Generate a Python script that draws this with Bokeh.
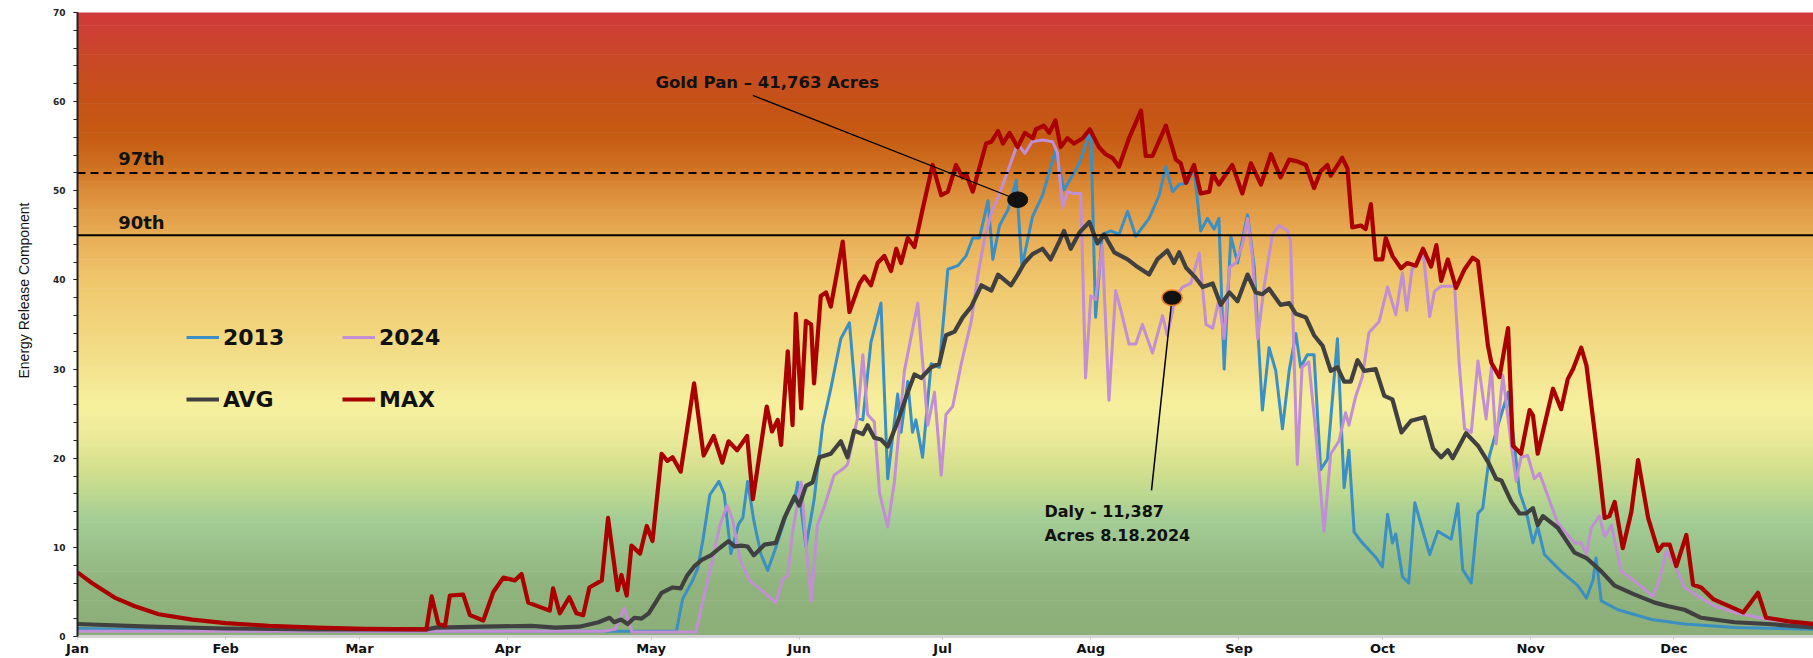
import numpy as np
from bokeh.plotting import figure
from bokeh.models import Range1d, FixedTicker, Span, Label, Legend, LegendItem, Title
from bokeh.embed import file_html
from bokeh.resources import INLINE

# ---------------- data ----------------
MONTHS = ["Jan", "Feb", "Mar", "Apr", "May", "Jun", "Jul", "Aug", "Sep", "Oct", "Nov", "Dec"]
MONTH_LENGTHS = [31, 28, 31, 30, 31, 30, 31, 31, 30, 31, 30, 31]
Y_TICKS = [0, 10, 20, 30, 40, 50, 60, 70]
Y_MINOR = list(range(0, 71, 2))

PCT97 = 52.0
PCT90 = 45.0

MAX_DAY = [0, 3, 8, 12, 17, 24, 31, 40, 50, 60, 73, 74.1, 75.5, 76.9, 77.9, 80.7, 82.1, 84.9, 87, 89.1, 91.5, 92.9,
           94.3, 98.8, 99.5, 100.9, 102.9, 104.4, 105.8, 107.1, 109.7, 111, 113, 113.8, 114.9, 115.9, 117.7, 119.1,
           120.3, 122.2, 123.4, 124.5, 126.2, 129.0, 131.0, 133.1, 134.9, 136.2, 138, 140.1, 141.3, 144.2, 145.3,
           146.5, 147.2, 148.6, 149.6, 150.3, 151.4, 152.4, 153.5, 154.1, 155.5, 156.6, 157.6, 160.1, 161.5, 163.6,
           164.6, 166.0, 167.4, 168.8, 170.2, 171.3, 172.3, 173.7, 175.1, 176.8, 178.9, 180.7, 182.1, 183.8, 185.2,
           185.9, 187.3, 190.1, 191.2, 192.6, 193.6, 195.0, 196.7, 198.2, 199.9, 200.5, 202.2, 203.3, 204.6, 205.7,
           207.1, 208.5, 210.3, 211.8, 213.7, 215.1, 216.5, 217.9, 220.0, 222.5, 223.5, 224.9, 227.7, 229.8, 230.8,
           231.9, 233.6, 235.0, 236.8, 237.5, 238.8, 241.6, 243.7, 245.5, 247.6, 249.7, 251.7, 253.5, 255.2, 257.0,
           258.7, 260.1, 261.5, 262.2, 264.6, 265.7, 266.7, 268.5, 269.5, 270.6, 271.6, 273.0, 273.7, 275.1, 276.9,
           278.2, 280.0, 281.5, 283.2, 284.3, 285.3, 286.7, 288.4, 290.2, 291.9, 293.0, 295.1, 295.8, 297.5, 299.3,
           300.3, 302.0, 303.8, 304.5, 305.5, 308.7, 310.4, 311.8, 312.9, 314.6, 315.7, 318.1, 319.5, 320.5, 321.6,
           323.3, 325.1, 326.5, 328.6, 330.7, 331.7, 333.1, 334.5, 336.6, 338.0, 339.7, 342.2, 348.5, 351.6, 353.3,
           358, 363.5]
MAX_ERC = [7.2, 6.0, 4.3, 3.4, 2.5, 1.9, 1.5, 1.2, 1.0, 0.85, 0.8, 4.5, 1.4, 1.2, 4.6, 4.7, 2.4, 1.8, 5.0, 6.6, 6.3, 7.0,
           3.8, 2.9, 5.4, 2.6, 4.4, 2.6, 2.4, 5.5, 6.3, 13.3, 5.2, 6.9, 4.6, 10.2, 9.3, 12.4,
           10.7, 20.5, 19.7, 20.1, 18.5, 28.4, 20.3, 22.5, 19.5, 21.9, 20.9, 22.5, 15.4, 25.8, 23.0,
           24.3, 21.5, 32.0, 23.7, 36.2, 25.6, 35.4, 35.0, 28.4, 38.2, 38.6, 37.0, 44.3, 36.4, 39.6,
           40.4, 39.4, 41.9, 42.7, 41.0, 43.5, 41.9, 44.7, 43.7, 47.9, 52.9, 49.5, 49.9, 52.9, 51.5,
           51.9, 49.9, 55.3, 55.5, 56.7, 55.3, 56.5, 54.9, 56.5, 55.9, 56.9, 57.3, 56.5, 57.9, 54.9,
           55.9, 55.3, 55.9, 56.9, 54.9, 54.1, 53.7, 52.7, 55.9, 59.0, 53.9, 53.9, 57.3, 53.5, 53.1,
           50.9, 52.9, 49.7, 49.9, 51.9, 50.7, 52.9, 49.7, 53.1, 50.7, 54.1, 51.5, 53.5, 53.3, 52.9,
           50.3, 52.2, 52.9, 51.7, 53.7, 52.5, 45.9, 46.1, 45.7, 48.5, 42.3, 42.3, 44.7, 42.7, 41.3,
           41.9, 41.6, 43.5, 41.5, 43.9, 39.9, 42.3, 39.1, 41.2, 42.5, 42.1, 32.6, 30.7, 29.1, 34.6,
           21.4, 20.5, 25.4, 24.8, 20.5, 27.8, 25.5, 28.9, 30.0, 32.4, 30.4, 20.0, 13.3, 13.5, 15.1,
           9.9, 14.0, 19.8, 13.3, 9.6, 10.3, 10.3, 7.9, 11.4, 5.8, 5.5, 4.2, 2.7, 4.9, 2.1,
           1.7, 1.4]

AVG_DAY = [0, 15, 31, 50, 73, 75, 85, 95, 100, 105, 109, 111.3, 112.3, 113.7, 115.1, 116.5, 118, 119.5, 120.7, 122.2,
           124.5, 126.2, 127.5, 129.1, 130.6, 132.5, 134.3, 136.2, 137.5, 138.8, 140.2, 141.5, 143.7, 146.1, 147.9,
           150.0, 151.0, 152.4, 153.8, 155.2, 157.6, 159.7, 161.1, 162.5, 164.3, 165.3, 166.7, 168.1, 169.5, 171.6,
           173.7, 175.1, 176.5, 178.6, 180.3, 181.7, 183.5, 185.2, 187.0, 189.1, 191.2, 192.6, 195.3, 196.7, 198.1,
           199.8, 201.9, 203.6, 205.4, 206.4, 207.8, 209.6, 211.7, 213.4, 214.8, 216.9, 218.3, 219.7, 221.4, 224.2,
           225.9, 228.0, 229.4, 230.5, 231.9, 234.0, 235.4, 237.5, 239.2, 241.0, 242.7, 244.8, 246.5, 247.9, 249.3,
           251.7, 253.5, 254.9, 257.0, 258.7, 260.5, 262.2, 263.6, 265.0, 266.4, 267.8, 269.2, 271.6, 273.4, 275.1,
           277.0, 279.0, 281.8, 283.6, 285.3, 286.7, 287.7, 290.5, 293.0, 295.1, 296.8, 297.9, 300.0, 301.7, 303.1,
           304.5, 305.5, 306.6, 309.7, 313.2, 315.7, 318.8, 321.6, 325.8, 330.0, 332.8, 336.2, 339.7, 346.7, 353.7,
           363.5]
AVG_ERC = [1.4, 1.1, 0.9, 0.8, 0.8, 1.0, 1.1, 1.2, 1.0, 1.1, 1.6, 2.1, 1.6, 1.9, 1.4, 2.1, 2.0, 2.6, 3.6, 4.9,
           5.5, 5.4, 6.8, 7.9, 8.6, 9.1, 9.9, 10.7, 10.1, 10.2, 10.1, 9.1, 10.3, 10.5, 13.3,
           15.7, 14.7, 16.9, 17.3, 20.1, 20.5, 21.9, 20.1, 23.1, 22.7, 23.7, 22.3, 22.1, 21.3, 24.1,
           27.4, 29.4, 29.0, 30.2, 30.6, 33.8, 34.2, 35.8, 37.0, 39.4, 38.8, 40.6, 39.4, 40.6, 41.9,
           42.9, 43.5, 42.3, 44.3, 45.5, 43.5, 45.3, 46.5, 44.1, 45.1, 43.1, 42.7, 42.3, 41.6, 40.6,
           42.3, 43.3, 41.9, 43.1, 41.4, 40.2, 39.2, 39.6, 37.2, 38.6, 37.6, 40.6, 38.6, 38.4, 39.0,
           37.2, 37.4, 36.2, 35.8, 33.8, 32.6, 29.8, 30.2, 28.6, 28.6, 31.0, 29.8, 30.0, 27.0, 26.6,
           22.9, 24.2, 24.6, 21.1, 20.1, 20.9, 20.0, 22.8, 21.4, 19.6, 17.7, 17.5, 15.1, 13.8, 13.8,
           14.4, 12.5, 13.5, 12.2, 9.4, 8.8, 7.3, 5.7, 4.7, 3.8, 3.4, 3.0, 2.1, 1.6, 1.4,
           1.0]

Y2013_DAY = [0, 20, 60, 100, 125.3, 126.6, 128.7, 129.8, 130.9, 132.3, 134.2, 135.3, 136.7, 138.3, 139.2, 140.2,
             141.5, 143.0, 144.4, 145.8, 148.6, 150.0, 150.7, 152.4, 154.1, 155.9, 157.6, 159.7, 161.5, 163.2,
             164.3, 166.0, 168.1, 169.5, 171.6, 172.3, 173.7, 174.7, 175.4, 176.8, 178.6, 180.3, 182.1, 184.2,
             185.9, 187.3, 188.7, 190.5, 191.5, 192.9, 194.7, 196.4, 197.6, 199.8, 201.9, 204.6, 206.4, 209.6,
             212.0, 213.0, 214.4, 216.2, 217.9, 219.7, 221.4, 224.2, 226.3, 227.7, 229.1, 230.5, 232.2, 233.6,
             235.0, 236.4, 237.8, 238.8, 239.9, 241.3, 242.7, 244.8, 246.2, 247.9, 249.3, 250.7, 252.1, 253.5,
             254.9, 255.9, 257.3, 258.7, 260.1, 261.5, 263.6, 265.0, 266.0, 267.1, 268.5, 270.2, 271.6, 273.0,
             274.1, 275.1, 275.8, 277.2, 278.5, 279.8, 281.5, 282.9, 284.6, 287.4, 288.8, 289.8, 291.6, 293.0,
             294.0, 295.4, 297.2, 299.3, 300.7, 301.7, 303.1, 304.5, 305.5, 306.9, 310.4, 313.9, 315.7, 317.1,
             317.7, 318.8, 322.3, 329.3, 336.2, 346.7, 363.5]
Y2013_ERC = [0.9, 0.7, 0.6, 0.6, 0.6, 4.2, 6.3, 7.7, 11.0, 15.9, 17.4, 16.0, 9.3, 12.6, 13.3, 17.4,
             13.0, 9.2, 7.4, 9.5, 14.1, 15.3, 17.3, 10.1, 15.3, 23.7, 27.8, 33.4, 35.2, 24.5,
             24.3, 33.0, 37.4, 17.7, 27.2, 22.9, 28.6, 22.9, 24.3, 20.1, 30.6, 30.2, 41.2, 41.6,
             42.7, 44.7, 44.7, 48.9, 42.3, 46.1, 47.9, 51.2, 41.5, 47.1, 49.5, 54.5, 50.1, 53.1,
             56.9, 35.8, 45.1, 45.5, 45.1, 47.7, 44.9, 46.9, 49.5, 52.7, 49.9, 50.7, 50.9, 52.5,
             45.5, 46.9, 45.7, 46.9, 30.0, 44.9, 41.9, 47.3, 41.4, 25.4, 32.4, 29.8, 23.3, 29.8,
             34.0, 30.2, 31.6, 31.6, 18.7, 19.9, 33.4, 16.7, 20.9, 11.7, 10.7, 9.7, 8.9, 7.8,
             13.7, 10.5, 11.5, 6.7, 6.0, 15.0, 11.8, 9.2, 11.8, 10.9, 14.9, 7.5, 6.0, 13.8,
             14.4, 20.3, 23.7, 27.4, 21.1, 16.2, 14.0, 10.5, 12.3, 9.2, 7.3, 5.7, 4.3, 6.4,
             8.8, 4.0, 3.0, 1.9, 1.4, 1.0, 0.8]

Y2024_DAY = [0, 110, 112.5, 114.4, 116, 129.4, 130.8, 132.6, 134.3, 135.9, 137.0, 138.7, 140.6, 143.3, 146.1, 147.5,
             148.6, 149.6, 151.4, 152.4, 153.5, 154.8, 156.2, 158.3, 160.4, 161.1, 163.2, 164.3, 165.3, 166.7,
             167.8, 169.5, 170.9, 173.0, 175.8, 177.9, 179.3, 180.7, 181.7, 183.1, 184.9, 187.0, 188.4, 189.8,
             191.2, 192.9, 194.7, 196.7, 198.2, 199.7, 201.9, 204.0, 205.0, 206.1, 207.1, 208.5, 209.9, 210.9,
             212.0, 213.0, 214.4, 215.8, 217.2, 218.3, 220.0, 221.4, 222.8, 224.9, 227.0, 228.0, 229.8, 231.2,
             232.9, 234.7, 236.1, 237.5, 238.8, 239.9, 241.0, 242.3, 243.7, 244.8, 245.8, 246.9, 248.3, 250.0,
             251.4, 253.2, 253.8, 255.2, 256.2, 257.6, 259.0, 260.8, 262.2, 263.9, 265.3, 266.0, 267.4, 268.8,
             270.2, 272.3, 274.1, 275.8, 277.2, 278.1, 279.2, 281.6, 282.9, 283.9, 285.3, 288.1, 289.1, 290.2,
             291.6, 293.0, 294.7, 295.8, 296.8, 298.2, 300.0, 301.0, 302.0, 303.4, 304.8, 305.9, 309.7, 313.2,
             314.6, 315.7, 316.7, 318.4, 319.5, 320.9, 323.0, 325.8, 329.6, 331.0, 332.4, 334.1, 336.2, 339.7,
             342.5, 346.7, 353.7, 363.5]
Y2024_ERC = [0.6, 0.6, 0.8, 3.2, 0.5, 0.5, 4.0, 8.0, 12.3, 14.7, 13.2, 8.5, 6.3, 5.1, 3.8, 6.4,
             6.8, 11.7, 17.3, 10.5, 4.0, 12.5, 14.5, 18.1, 18.9, 19.3, 24.5, 31.6, 24.9, 24.1,
             16.1, 12.3, 17.3, 29.8, 37.4, 23.7, 27.4, 18.1, 24.9, 25.8, 30.6, 35.4, 40.6, 44.7,
             47.5, 49.7, 52.3, 55.3, 54.2, 55.5, 55.7, 55.5, 54.3, 48.1, 49.9, 49.7, 49.7, 29.0,
             38.2, 37.8, 43.9, 26.5, 38.8, 36.6, 32.8, 32.8, 35.0, 31.8, 36.0, 33.8, 38.2, 39.2,
             39.6, 43.0, 35.0, 34.6, 37.8, 33.4, 41.4, 41.9, 43.9, 46.9, 42.7, 33.4, 39.4, 45.1,
             46.1, 45.5, 44.3, 19.3, 30.2, 30.8, 23.3, 11.8, 20.5, 21.9, 25.1, 23.7, 26.9, 29.1,
             34.1, 35.3, 39.2, 36.1, 40.8, 36.6, 41.2, 42.8, 35.9, 38.7, 39.3, 39.3, 30.4, 23.3,
             22.9, 30.9, 24.4, 30.2, 21.6, 29.3, 21.4, 17.4, 20.1, 20.3, 17.7, 18.3, 12.7, 10.5,
             10.5, 9.2, 12.2, 13.5, 11.2, 12.5, 7.3, 6.2, 4.5, 6.4, 9.6, 8.1, 5.5, 4.3,
             3.4, 2.7, 1.9, 1.2]

# annotation anchors (day of year, ERC)
GOLD_PAN_TEXT = "Gold Pan \u2013 41,763 Acres"
GOLD_PAN_DOT = (196.7, 49.0)
GOLD_PAN_LINE_START = (141.3, 60.7)
GOLD_PAN_TEXT_POS = (144.3, 62.1)
DALY_TEXT = "Daly - 11,387\nAcres 8.18.2024"
DALY_DOT = (229.0, 38.0)
DALY_LINE_START = (224.7, 16.4)
DALY_TEXT_POS = (202.3, 12.7)

# background colour ramp (ERC level -> colour)
BG_LEVELS = [0, 6, 10, 13, 16, 19, 23, 26, 30, 35, 40, 45, 50, 53, 56, 60, 64, 70]
BG_COLORS = ["#8cae78", "#90b47e", "#9cc28c", "#a3cc95", "#bcd88f", "#d5e08e", "#eeeb9a", "#f6f09e",
             "#f3e28e", "#f1d47c", "#efc66c", "#e8ad56", "#dc8c38", "#cd6f20", "#c65c13", "#c55217",
             "#c84a24", "#d03a3c"]

# ---------------- figure ----------------
month_start = [int(v) for v in np.concatenate([[0], np.cumsum(MONTH_LENGTHS)[:-1]])]

p = figure(width=1813, height=658, x_range=Range1d(0, 363.2), y_range=Range1d(0, 70),
           output_backend="svg", toolbar_location=None,
           min_border_left=77, min_border_right=0, min_border_top=12, min_border_bottom=19,
           background_fill_color="white", border_fill_color="white", outline_line_color=None)
p.grid.visible = False

# gradient background
step = 0.25
bottoms = np.arange(0, 70, step)
rgb = np.array([[int(c[i:i + 2], 16) for i in (1, 3, 5)] for c in BG_COLORS], dtype=float)
mids = bottoms + step / 2
cols = []
for m in mids:
    r, g, b = (np.interp(m, BG_LEVELS, rgb[:, k]) for k in range(3))
    cols.append("#%02x%02x%02x" % (int(round(r)), int(round(g)), int(round(b))))
p.quad(left=-5, right=370, bottom=bottoms, top=bottoms + step + 0.08, fill_color=cols, line_color=None)

# percentile lines
p.add_layout(Span(location=PCT97, dimension="width", line_color="black", line_width=2, line_dash="8 5"))
p.add_layout(Span(location=PCT90, dimension="width", line_color="black", line_width=2))

# series
r13 = p.line(Y2013_DAY, Y2013_ERC, line_color="#3b8fc2", line_width=3, line_join="round")
r24 = p.line(Y2024_DAY, Y2024_ERC, line_color="#c28ed4", line_width=3, line_join="round")
ravg = p.line(AVG_DAY, AVG_ERC, line_color="#404040", line_width=4.2, line_join="round")
rmax = p.line(MAX_DAY, MAX_ERC, line_color="#aa0000", line_width=4.2, line_join="round")

# annotation connectors and dots
p.segment(x0=[GOLD_PAN_LINE_START[0]], y0=[GOLD_PAN_LINE_START[1]], x1=[GOLD_PAN_DOT[0]], y1=[GOLD_PAN_DOT[1]],
          line_color="black", line_width=1.2)
p.segment(x0=[DALY_LINE_START[0]], y0=[DALY_LINE_START[1]], x1=[DALY_DOT[0]], y1=[DALY_DOT[1]],
          line_color="black", line_width=1.5)
p.ellipse(x=[GOLD_PAN_DOT[0]], y=[GOLD_PAN_DOT[1]], width=4.2, height=1.75, fill_color="#111111",
          line_color="#111111", line_width=1)
p.ellipse(x=[DALY_DOT[0]], y=[DALY_DOT[1]], width=4.2, height=1.75, fill_color="#111111",
          line_color="#e8761e", line_width=1.5)

# texts
BOLD = dict(text_font="DejaVu Sans", text_font_style="bold", text_color="#111111")
p.add_layout(Label(x=8.5, y=53.6, text="97th", text_font_size="18px", text_baseline="middle", **BOLD))
p.add_layout(Label(x=8.5, y=46.4, text="90th", text_font_size="18px", text_baseline="middle", **BOLD))
p.add_layout(Label(x=GOLD_PAN_TEXT_POS[0], y=GOLD_PAN_TEXT_POS[1], text=GOLD_PAN_TEXT, text_font_size="16.5px",
                   text_align="center", text_baseline="middle", **BOLD))
p.add_layout(Label(x=DALY_TEXT_POS[0], y=DALY_TEXT_POS[1], text=DALY_TEXT, text_font_size="16px",
                   text_align="left", text_baseline="middle", text_line_height=1.25, **BOLD))

# y-axis title placed on the left side
p.add_layout(Title(text="Energy Release Component", align="left", offset=258, standoff=31,
                   vertical_align="top",
                   text_font="Liberation Sans", text_font_size="14px", text_font_style="normal",
                   text_color="#111111"), "left")

# legends (two rows)
leg_common = dict(orientation="horizontal", glyph_width=33, glyph_height=30, label_height=30, label_width=88,
                  label_standoff=4, spacing=31, padding=0, margin=0, border_line_alpha=0,
                  background_fill_alpha=0, label_text_font="DejaVu Sans", label_text_font_style="bold",
                  label_text_font_size="22px", label_text_color="#111111")
leg1 = Legend(items=[LegendItem(label="2013", renderers=[r13]), LegendItem(label="2024", renderers=[r24])],
              location=(109, 284), **leg_common)
leg2 = Legend(items=[LegendItem(label="AVG", renderers=[ravg]), LegendItem(label="MAX", renderers=[rmax])],
              location=(109, 222), **leg_common)
p.add_layout(leg1)
p.add_layout(leg2)

# axes
p.xaxis.ticker = FixedTicker(ticks=month_start, minor_ticks=[])
p.xaxis.major_label_overrides = {d: m for d, m in zip(month_start, MONTHS)}
p.xaxis.axis_line_color = "#d4d4d4"
p.xaxis.axis_line_width = 3
p.xaxis.major_tick_line_color = "#c8c8c8"
p.xaxis.major_tick_in = 0
p.xaxis.major_tick_out = 3
p.xaxis.minor_tick_line_color = None
p.xaxis.major_label_standoff = 1
p.xaxis.major_label_text_font = "DejaVu Sans"
p.xaxis.major_label_text_font_style = "bold"
p.xaxis.major_label_text_font_size = "13px"
p.xaxis.major_label_text_color = "#111111"

p.yaxis.ticker = FixedTicker(ticks=Y_TICKS, minor_ticks=Y_MINOR)
p.yaxis.axis_line_color = "#222222"
p.yaxis.axis_line_width = 2
p.yaxis.major_tick_line_color = "#222222"
p.yaxis.minor_tick_line_color = "#222222"
p.yaxis.major_tick_in = 0
p.yaxis.major_tick_out = 4
p.yaxis.minor_tick_in = 0
p.yaxis.minor_tick_out = 4
p.yaxis.major_label_standoff = 8
p.yaxis.major_label_text_font = "DejaVu Sans"
p.yaxis.major_label_text_font_style = "bold"
p.yaxis.major_label_text_font_size = "9px"
p.yaxis.major_label_text_color = "#222222"

open("out.html", "w").write(file_html(p, INLINE))
